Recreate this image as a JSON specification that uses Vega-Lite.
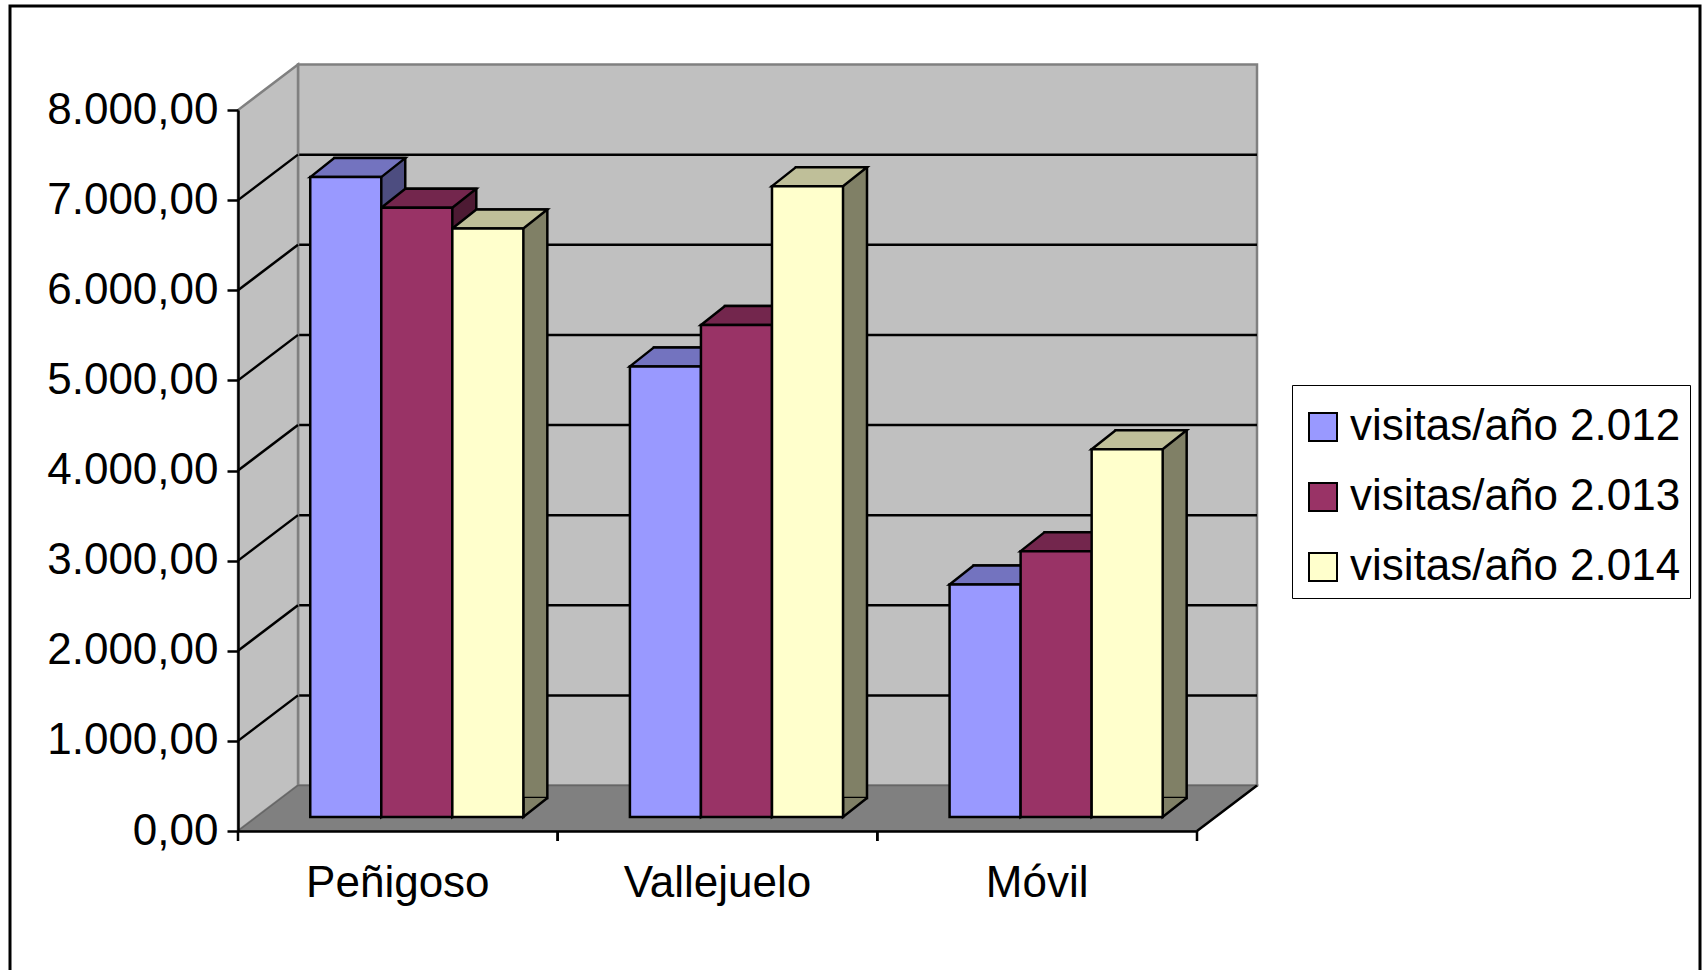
{
  "$schema": "https://vega.github.io/schema/vega-lite/v6.json",
  "width": 959,
  "height": 721,
  "autosize": {"type": "none"},
  "padding": {"left": 238, "top": 110, "right": 509, "bottom": 139},
  "background": "white",
  "datasets": {
    "visitas": [
      {"lugar": "Peñigoso", "serie": "visitas/año 2.012", "valor": 7100},
      {"lugar": "Peñigoso", "serie": "visitas/año 2.013", "valor": 6760},
      {"lugar": "Peñigoso", "serie": "visitas/año 2.014", "valor": 6530},
      {"lugar": "Vallejuelo", "serie": "visitas/año 2.012", "valor": 5000},
      {"lugar": "Vallejuelo", "serie": "visitas/año 2.013", "valor": 5460},
      {"lugar": "Vallejuelo", "serie": "visitas/año 2.014", "valor": 7000},
      {"lugar": "Móvil", "serie": "visitas/año 2.012", "valor": 2580},
      {"lugar": "Móvil", "serie": "visitas/año 2.013", "valor": 2950},
      {"lugar": "Móvil", "serie": "visitas/año 2.014", "valor": 4080}
    ],
    "rejilla": [
      {"v": 1000}, {"v": 2000}, {"v": 3000}, {"v": 4000},
      {"v": 5000}, {"v": 6000}, {"v": 7000}
    ],
    "lugares": [{"lugar": "Peñigoso"}, {"lugar": "Vallejuelo"}, {"lugar": "Móvil"}],
    "uno": [{"k": 1}]
  },
  "layer": [
    {
      "data": {"name": "uno"},
      "mark": {"type": "point", "filled": false, "opacity": 1, "size": 4,
               "shape": "M-707.5,-825 L982.5,-825 L982.5,169 L-707.5,169 Z",
               "stroke": "black", "strokeWidth": 3},
      "encoding": {"y": {"datum": 0, "type": "quantitative"}}
    },
    {
      "data": {"name": "uno"},
      "mark": {"type": "point", "filled": true, "opacity": 1, "size": 4,
               "shape": "M-419.5,-45.5 L539.5,-45.5 L539.5,-766.5 L-419.5,-766.5 Z",
               "fill": "#c0c0c0", "stroke": "#808080", "strokeWidth": 2.5},
      "encoding": {"y": {"datum": 0, "type": "quantitative"}}
    },
    {
      "data": {"name": "rejilla"},
      "mark": {"type": "point", "filled": false, "opacity": 1, "size": 4,
               "shape": "M-419.5,-45.5 L539.5,-45.5",
               "stroke": "black", "strokeWidth": 2.5},
      "encoding": {"y": {"field": "v", "type": "quantitative"}}
    },
    {
      "data": {"name": "uno"},
      "mark": {"type": "point", "filled": true, "opacity": 1, "size": 4,
               "shape": "M-479.5,0 L-419.5,-45.5 L-419.5,-766.5 L-479.5,-721 Z",
               "fill": "#c0c0c0", "stroke": "#808080", "strokeWidth": 2.5},
      "encoding": {"y": {"datum": 0, "type": "quantitative"}}
    },
    {
      "data": {"name": "rejilla"},
      "mark": {"type": "point", "filled": false, "opacity": 1, "size": 4,
               "shape": "M-479.5,0 L-419.5,-45.5",
               "stroke": "black", "strokeWidth": 2.5},
      "encoding": {"y": {"field": "v", "type": "quantitative"}}
    },
    {
      "data": {"name": "uno"},
      "mark": {"type": "point", "filled": true, "opacity": 1, "size": 4,
               "shape": "M-479.5,0 L-419.5,-45.5 L539.5,-45.5 L479.5,0 Z",
               "fill": "#808080", "stroke": "#666666", "strokeWidth": 1.5},
      "encoding": {"y": {"datum": 0, "type": "quantitative"}}
    },
    {
      "data": {"name": "uno"},
      "mark": {"type": "point", "filled": false, "opacity": 1, "size": 4,
               "shape": "M479.5,0 L539.5,-45.5",
               "stroke": "black", "strokeWidth": 2.5},
      "encoding": {"y": {"datum": 0, "type": "quantitative"}}
    },
    {
      "data": {"name": "lugares"},
      "mark": {"type": "point", "filled": false, "opacity": 1, "size": 4,
               "shape": "M-159.83,0 L-159.83,10 M159.83,0 L159.83,10",
               "stroke": "black", "strokeWidth": 2.5},
      "encoding": {
        "x": {"field": "lugar", "type": "nominal", "sort": null},
        "y": {"datum": 0, "type": "quantitative"}
      }
    },
    {
      "data": {"name": "visitas"},
      "mark": {"type": "bar", "stroke": "black", "strokeWidth": 2.5,
               "yOffset": -33, "y2Offset": -33},
      "encoding": {
        "x": {"field": "lugar", "type": "nominal", "sort": null},
        "xOffset": {"field": "serie", "type": "nominal",
                    "scale": {"paddingInner": 0, "paddingOuter": 0.75, "align": 0.903}},
        "y": {"field": "valor", "type": "quantitative"},
        "fill": {"field": "serie", "type": "nominal", "legend": null,
                 "scale": {"range": ["#4d4d80", "#4d1a33", "#808066"]}}
      }
    },
    {
      "data": {"name": "visitas"},
      "mark": {"type": "point", "filled": true, "opacity": 1, "size": 4,
               "shape": "M35.5,-33 L35.5,-14 L59.5,-33",
               "stroke": "black", "strokeWidth": 2.5},
      "encoding": {
        "x": {"field": "lugar", "type": "nominal", "sort": null},
        "xOffset": {"field": "serie", "type": "nominal",
                    "scale": {"type": "band", "paddingInner": 0, "paddingOuter": 0.75, "align": 0.678}},
        "y": {"datum": 0, "type": "quantitative"},
        "fill": {"field": "serie", "type": "nominal", "legend": null,
                 "scale": {"range": ["#4d4d80", "#4d1a33", "#808066"]}}
      }
    },
    {
      "data": {"name": "visitas"},
      "mark": {"type": "point", "filled": true, "opacity": 1, "size": 4,
               "shape": "M-35.5,-14 L-11.5,-33 L59.5,-33 L35.5,-14 Z",
               "stroke": "black", "strokeWidth": 2.5},
      "encoding": {
        "x": {"field": "lugar", "type": "nominal", "sort": null},
        "xOffset": {"field": "serie", "type": "nominal",
                    "scale": {"type": "band", "paddingInner": 0, "paddingOuter": 0.75, "align": 0.678}},
        "y": {"field": "valor", "type": "quantitative"},
        "fill": {"field": "serie", "type": "nominal", "legend": null,
                 "scale": {"range": ["#7373bf", "#73264d", "#bfbf99"]}}
      }
    },
    {
      "data": {"name": "visitas"},
      "mark": {"type": "bar", "stroke": "black", "strokeWidth": 2.5,
               "yOffset": -14, "y2Offset": -14},
      "encoding": {
        "x": {"field": "lugar", "type": "nominal", "sort": null,
              "scale": {"paddingInner": 0, "paddingOuter": 0},
              "axis": {"title": null, "labelAngle": 0, "labelAlign": "center", "labelBaseline": "top",
                       "labelLimit": 600,
                       "labelFont": "Liberation Sans", "labelFontSize": 44, "labelColor": "black",
                       "labelPadding": 20, "domainColor": "black", "domainWidth": 2.5,
                       "ticks": true, "tickOpacity": 0, "tickSize": 10, "zindex": 1}},
        "xOffset": {"field": "serie", "type": "nominal",
                    "scale": {"paddingInner": 0, "paddingOuter": 0.75, "align": 0.678}},
        "y": {"field": "valor", "type": "quantitative",
              "scale": {"domain": [0, 8000], "nice": false},
              "axis": {"title": null, "grid": false,
                       "values": [0, 1000, 2000, 3000, 4000, 5000, 6000, 7000, 8000],
                       "labelExpr": "replace(replace(replace(format(datum.value, ',.2f'), ',', '_'), '.', ','), '_', '.')",
                       "labelFont": "Liberation Sans", "labelFontSize": 44, "labelColor": "black",
                       "labelPadding": 9, "domainColor": "black", "domainWidth": 2.5,
                       "tickColor": "black", "tickWidth": 2.5, "tickSize": 11, "zindex": 1}},
        "fill": {"field": "serie", "type": "nominal",
                 "scale": {"range": ["#9999ff", "#993366", "#ffffcc"]},
                 "legend": {"title": " ", "titleFontSize": 8, "titlePadding": 3,
                            "orient": "none", "legendX": 1054, "legendY": 275,
                            "strokeColor": "black", "fillColor": "white", "padding": 9,
                            "symbolType": "square", "symbolSize": 784, "symbolStrokeColor": "black",
                            "symbolStrokeWidth": 2, "symbolOpacity": 1,
                            "labelFont": "Liberation Sans", "labelFontSize": 44, "labelColor": "black",
                            "labelOffset": 5, "rowPadding": 26, "labelLimit": 0}}
      }
    }
  ],
  "resolve": {"scale": {"fill": "independent", "xOffset": "independent"}, "legend": {"fill": "independent"}},
  "config": {"view": {"stroke": null}}
}
